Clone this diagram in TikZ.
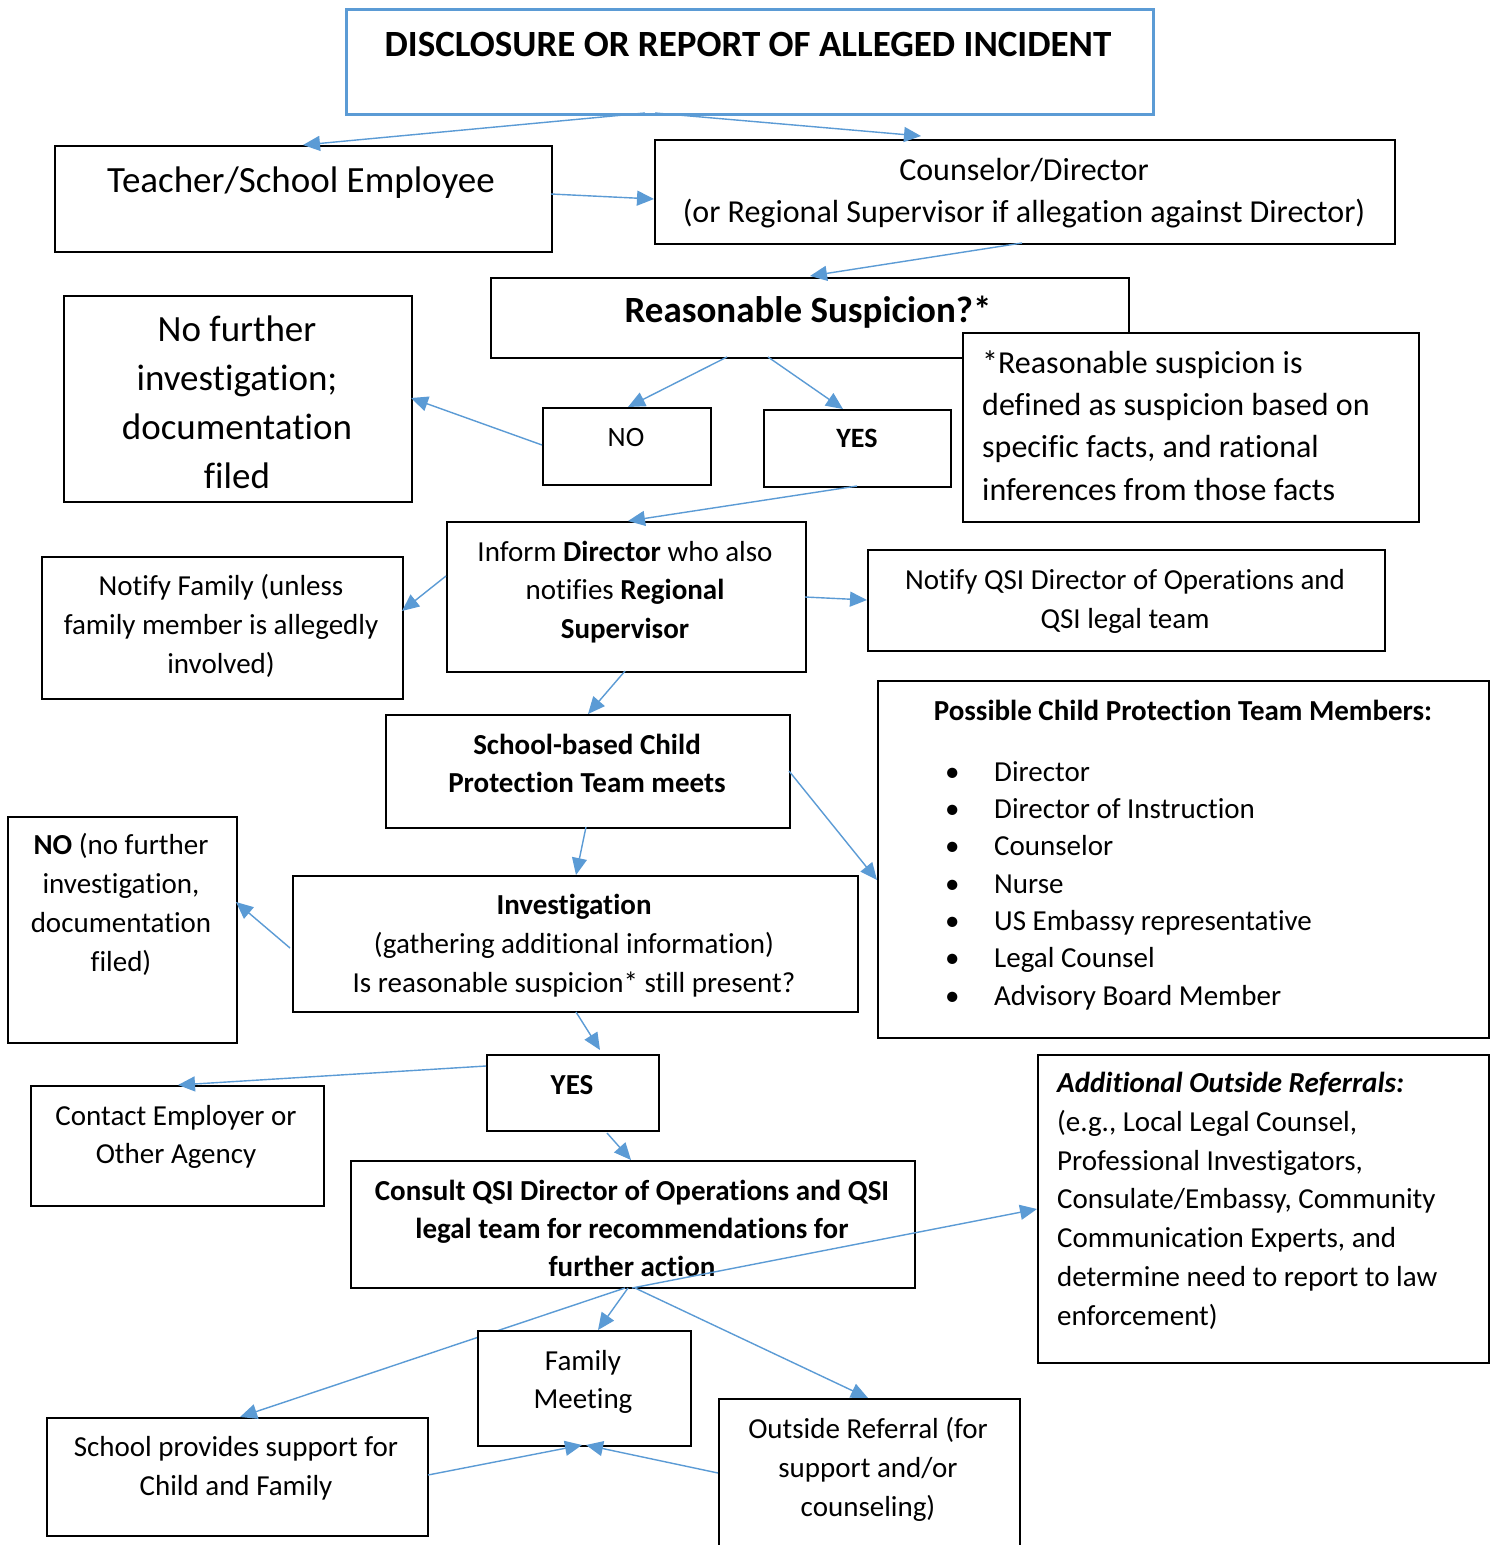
\documentclass[tikz,border=0pt]{standalone}
\usepackage{fontspec}
\setmainfont{Carlito}[Ligatures=CommonOff]
\usetikzlibrary{arrows.meta,calc}
\definecolor{ablue}{HTML}{5B9BD5}
\newcommand\fsz[2]{\fontsize{#1}{#2}\selectfont}
\newcommand\pp[3]{($(#1.north west)+(#2,#3)$)}
\begin{document}
\begin{tikzpicture}[x=1pt,y=-1pt,
  boxx/.style={draw=black,line width=1.8pt,fill=white,inner sep=0,anchor=north west},
  txt/.style={inner sep=0,align=center,anchor=base},
  ltxt/.style={inner sep=0,align=left,anchor=base west},
  arr/.style={draw=ablue,line width=1.4pt,-{Triangle[length=17pt,width=15pt]}}]
\useasboundingbox[fill=white] (0,0) rectangle (1496,1545);
% boxes
\node[boxx,draw=ablue,line width=2.6pt,minimum width=807,minimum height=105] (title) at (345,8) {};
\node[boxx,minimum width=497,minimum height=106] (teacher) at (54,145) {};
\node[boxx,minimum width=740,minimum height=104] (couns) at (654,139) {};
\node[boxx,minimum width=638,minimum height=80] (reas) at (490,277) {};
\node[boxx,minimum width=456,minimum height=189] (note) at (962,332) {};
\node[boxx,minimum width=348,minimum height=206] (nofur) at (63,295) {};
\node[boxx,minimum width=168,minimum height=77] (noA) at (542,407) {};
\node[boxx,minimum width=187,minimum height=77] (yesA) at (763,409) {};
\node[boxx,minimum width=359,minimum height=150] (inform) at (446,521) {};
\node[boxx,minimum width=361,minimum height=142] (notfam) at (41,556) {};
\node[boxx,minimum width=517,minimum height=101] (qsi) at (867,549) {};
\node[boxx,minimum width=611,minimum height=357] (cpt) at (877,680) {};
\node[boxx,minimum width=404,minimum height=113] (school) at (385,714) {};
\node[boxx,minimum width=229,minimum height=226] (noB) at (7,816) {};
\node[boxx,minimum width=565,minimum height=136] (invest) at (292,875) {};
\node[boxx,minimum width=172,minimum height=76] (yesB) at (486,1054) {};
\node[boxx,minimum width=293,minimum height=120] (contact) at (30,1085) {};
\node[boxx,minimum width=564,minimum height=127] (consult) at (350,1160) {};
\node[boxx,minimum width=451,minimum height=308] (addl) at (1037,1054) {};
\node[boxx,minimum width=381,minimum height=118] (support) at (46,1417) {};
\node[boxx,minimum width=301,minimum height=162] (outside) at (718,1398) {};
% arrows
\draw[arr] \pp{title}{300}{105} -- \pp{teacher}{249}{0};
\draw[arr] \pp{title}{310}{105} -- \pp{couns}{267}{-3};
\draw[arr] \pp{teacher}{497}{49} -- \pp{couns}{0}{60};
\draw[arr] \pp{couns}{368}{104} -- \pp{reas}{320}{-1};
\draw[arr] \pp{reas}{237}{80} -- \pp{noA}{86}{0};
\draw[arr] \pp{reas}{278}{80} -- \pp{yesA}{80}{0};
\draw[arr] \pp{noA}{0}{38} -- \pp{nofur}{348}{103};
\draw[arr] \pp{yesA}{94}{77} -- \pp{inform}{182}{0};
\draw[arr] \pp{inform}{0}{55} -- \pp{notfam}{361}{55};
\draw[arr] \pp{inform}{359}{76} -- \pp{qsi}{0}{51};
\draw[arr] \pp{inform}{179}{150} -- \pp{school}{203}{0};
\draw[arr] \pp{school}{404}{57} -- \pp{cpt}{0}{200};
\draw[arr] \pp{school}{201}{113} -- \pp{invest}{284}{0};
\draw[arr] \pp{invest}{-2}{73} -- \pp{noB}{229}{86};
\draw[arr] \pp{invest}{284}{137} -- \pp{yesB}{114}{-4};
\draw[arr] \pp{yesB}{0}{12} -- \pp{contact}{148}{0};
\draw[arr] \pp{yesB}{121}{79} -- \pp{consult}{281}{0};
\draw[arr] \pp{consult}{275}{128} -- \pp{support}{194}{0};
% family meeting box drawn over the arrow to support
\node[boxx,minimum width=213,minimum height=115] (fammeet) at (477,1330) {};
\draw[arr] \pp{consult}{278}{128} -- \pp{fammeet}{121}{0};
\draw[arr] \pp{consult}{285}{128} -- \pp{outside}{150}{0};
\draw[arr] \pp{support}{382}{58} -- \pp{fammeet}{105}{115};
\draw[arr] \pp{outside}{0}{75} -- \pp{fammeet}{109}{115};
% texts (anchor = baseline of last line)
\node[txt,font=\fsz{37}{44}\bfseries] (t-title) at (748,56) {DISCLOSURE OR REPORT OF ALLEGED INCIDENT};
\node[txt,font=\fsz{37}{44}] (t-teacher) at (301,192) {Teacher/School Employee};
\node[txt,font=\fsz{32}{42}] (t-couns) at (1024,222) {Counselor/Director\\(or Regional Supervisor if allegation against Director)};
\node[txt,font=\fsz{37}{42}\bfseries] (t-reas) at (808,322) {Reasonable Suspicion?*};
\node[ltxt,font=\fsz{32}{42.3}] (t-note) at (982,500) {*Reasonable suspicion is\\defined as suspicion based on\\specific facts, and rational\\inferences from those facts};
\node[txt,font=\fsz{37}{49}] (t-nofur) at (237,488) {No further\\investigation;\\documentation\\filed};
\node[txt,font=\fsz{28}{38}] (t-noA) at (626,446) {NO};
\node[txt,font=\fsz{28}{38}\bfseries] (t-yesA) at (857,447) {YES};
\node[txt,font=\fsz{29}{38.5}] (t-inform) at (625,638) {Inform \textbf{Director} who also\\notifies \textbf{Regional}\\\textbf{Supervisor}};
\node[txt,font=\fsz{29}{39}] (t-notfam) at (221,673) {Notify Family (unless\\family member is allegedly\\involved)};
\node[txt,font=\fsz{29}{39}] (t-qsi) at (1125,628) {Notify QSI Director of Operations and\\QSI legal team};
\node[txt,font=\fsz{29}{39}\bfseries] (t-cpt) at (1183,720) {Possible Child Protection Team Members:};
\node[ltxt,font=\fsz{29}{37.3}] (t-list) at (945,1005) {\makebox[49pt][l]{•}Director\\\makebox[49pt][l]{•}Director of Instruction\\\makebox[49pt][l]{•}Counselor\\\makebox[49pt][l]{•}Nurse\\\makebox[49pt][l]{•}US Embassy representative\\\makebox[49pt][l]{•}Legal Counsel\\\makebox[49pt][l]{•}Advisory Board Member};
\node[txt,font=\fsz{29}{38}\bfseries] (t-school) at (587,792) {School-based Child\\Protection Team meets};
\node[txt,font=\fsz{29}{38.7}] (t-noB) at (121,971) {\textbf{NO} (no further\\investigation,\\documentation\\filed)};
\node[txt,font=\fsz{29}{39}] (t-invest) at (574,992) {\textbf{Investigation}\\(gathering additional information)\\Is reasonable suspicion* still present?};
\node[txt,font=\fsz{29}{38}\bfseries] (t-yesB) at (572,1094) {YES};
\node[txt,font=\fsz{29}{38}] (t-contact) at (176,1163) {Contact Employer or\\Other Agency};
\node[txt,font=\fsz{29}{38}\bfseries] (t-consult) at (632,1276) {Consult QSI Director of Operations and QSI\\legal team for recommendations for\\further action};
\node[ltxt,font=\fsz{29}{38.7}] (t-addl) at (1057,1325) {\textbf{\textit{Additional Outside Referrals:}}\\(e.g., Local Legal Counsel,\\Professional Investigators,\\Consulate/Embassy, Community\\Communication Experts, and\\determine need to report to law\\enforcement)};
\node[txt,font=\fsz{29}{38}] (t-fam) at (583,1408) {Family\\Meeting};
\node[txt,font=\fsz{29}{39}] (t-support) at (236,1495) {School provides support for\\Child and Family};
\node[txt,font=\fsz{29}{39}] (t-outside) at (868,1516) {Outside Referral (for\\support and/or\\counseling)};
% arrow over consult text
\draw[arr] \pp{consult}{282}{128} -- \pp{addl}{0}{155};
\end{tikzpicture}
\end{document}
